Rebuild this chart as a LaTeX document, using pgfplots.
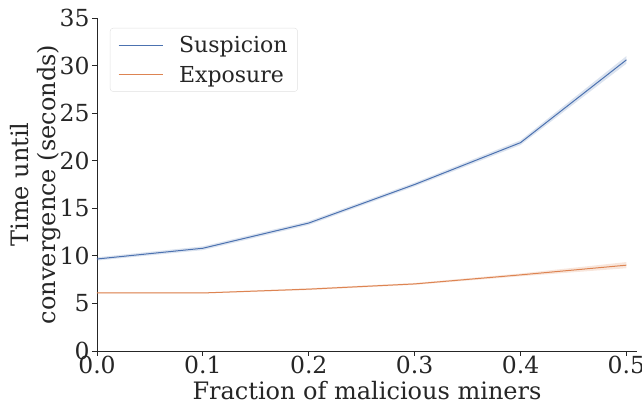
\documentclass[border=0pt]{standalone}
\usepackage{pgfplots}
\pgfplotsset{compat=1.18}
\usepackage{fontspec}
\setmainfont{DejaVu Serif}
\definecolor{sblue}{HTML}{4C72B0}
\definecolor{sorange}{HTML}{DD8452}
\definecolor{spine}{HTML}{262626}
\begin{document}
\begin{tikzpicture}
\begin{axis}[
  scale only axis,
  width=540pt, height=333pt,
  xmin=0, xmax=0.51, ymin=0, ymax=35,
  xtick={0,0.1,0.2,0.3,0.4,0.5},
  ytick={0,5,10,15,20,25,30,35},
  xticklabel style={/pgf/number format/fixed,/pgf/number format/fixed zerofill,/pgf/number format/precision=1},
  /pgf/number format/assume math mode=true,
  axis x line*=bottom, axis y line*=left,
  axis line style={spine, line width=0.8pt},
  tick style={spine, line width=0.8pt},
  major tick length=5pt,
  tick align=outside,
  ticklabel style={font=\fontsize{23.5}{27}\selectfont, text=spine},
  xticklabel style={yshift=3pt},
  yticklabel style={xshift=1pt},
  label style={font=\fontsize{24}{27}\selectfont, text=spine},
  xlabel={Fraction of malicious miners},
  xlabel style={yshift=0pt},
  ylabel={Time until\\convergence (seconds)},
  ylabel style={align=center, yshift=-8pt},
  legend style={at={(0.024,0.97)}, anchor=north west, draw=black!12, rounded corners=3pt,
    fill=white, font=\fontsize{22}{26}\selectfont, text=spine, row sep=8pt,
    inner xsep=8pt, inner ysep=6pt},
  legend cell align=left,
  legend image code/.code={\draw[#1] (0pt,0pt) -- (44pt,0pt); \path (58pt,0pt);},
]
\addplot[draw=none, fill=sblue, fill opacity=0.2, forget plot] coordinates {
 (0,9.85) (0.1,11.0) (0.2,13.65) (0.3,17.7) (0.4,22.15) (0.5,31.0)
 (0.5,30.2) (0.4,21.65) (0.3,17.3) (0.2,13.25) (0.1,10.6) (0,9.5)} -- cycle;
\addplot[draw=none, fill=sorange, fill opacity=0.2, forget plot] coordinates {
 (0,6.15) (0.1,6.15) (0.2,6.6) (0.3,7.15) (0.4,8.15) (0.5,9.35)
 (0.5,8.7) (0.4,7.85) (0.3,6.95) (0.2,6.4) (0.1,6.05) (0,6.05)} -- cycle;
\addplot[sblue, line width=1pt] coordinates {
 (0,9.67) (0.1,10.8) (0.2,13.45) (0.3,17.5) (0.4,21.9) (0.5,30.6)};
\addlegendentry{Suspicion}
\addplot[sorange, line width=1pt] coordinates {
 (0,6.1) (0.1,6.1) (0.2,6.5) (0.3,7.05) (0.4,8.0) (0.5,9.02)};
\addlegendentry{Exposure}
\end{axis}
\pgfresetboundingbox
\path (current axis.south west) ++(-97pt,-55pt) rectangle ++(642pt,406pt);
\end{tikzpicture}
\end{document}
